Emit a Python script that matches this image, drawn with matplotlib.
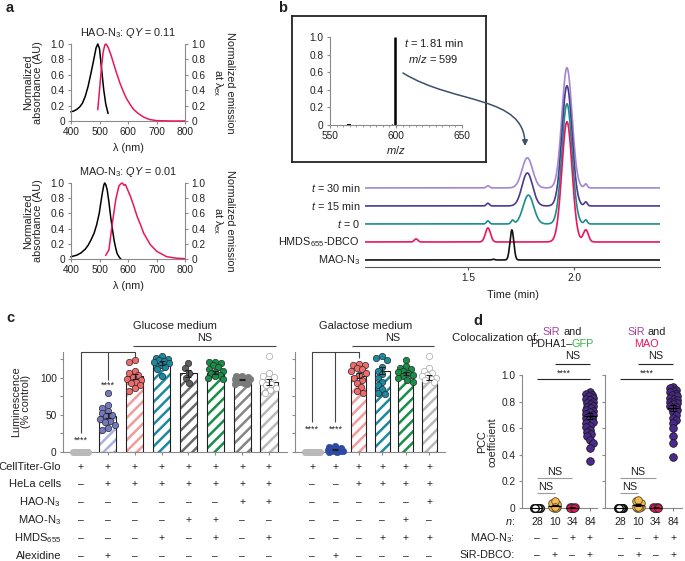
import matplotlib
matplotlib.use("Agg")
import matplotlib.pyplot as plt
import matplotlib.transforms as mtransforms
from matplotlib.patches import FancyArrowPatch
from matplotlib.path import Path
import numpy as np

W, H = 685, 561

TEXT = "#231f20"
AXIS = "#8a8a8a"
PINK = "#e8175d"

# ---------------- a: spectra ----------------
HAO_ABS_NM = [400, 410, 420, 430, 440, 450, 460, 470, 480, 488, 494, 500, 508, 515, 522, 530]
HAO_ABS = [0.12, 0.13, 0.15, 0.18, 0.23, 0.32, 0.45, 0.62, 0.80, 0.95, 1.0, 0.94, 0.65, 0.40, 0.22, 0.10]
HAO_EM_NM = [494, 500, 507, 513, 519, 523, 530, 540, 550, 560, 572, 585, 595, 610, 620, 635, 655, 675, 700, 750, 800]
HAO_EM = [0.15, 0.40, 0.70, 0.90, 0.99, 1.0, 0.96, 0.86, 0.74, 0.62, 0.49, 0.37, 0.29, 0.20, 0.15, 0.10,
          0.05, 0.02, 0.005, 0.0, 0.0]

MAO_ABS_NM = [400, 420, 435, 450, 460, 470, 481, 490, 499, 505, 510, 515, 518, 522, 527, 533, 539, 545,
              551, 557, 562, 570, 575]
MAO_ABS = [0.03, 0.05, 0.08, 0.13, 0.18, 0.25, 0.34, 0.45, 0.60, 0.75, 0.87, 0.97, 1.0, 0.98, 0.91, 0.75,
           0.56, 0.40, 0.25, 0.14, 0.07, 0.02, 0.0]
MAO_EM_NM = [522, 533, 545, 557, 568, 575, 580, 586, 591, 600, 609, 620, 632, 645, 655, 678, 701, 736, 771, 800]
MAO_EM = [0.05, 0.12, 0.47, 0.78, 0.96, 0.99, 1.0, 0.97, 0.98, 0.90, 0.82, 0.70, 0.56, 0.44, 0.34, 0.19,
          0.10, 0.03, 0.01, 0.005]

SPEC_TICKS = [0, 0.2, 0.4, 0.6, 0.8, 1.0]
SPEC_TICK_LABELS = ["0", "0.2", "0.4", "0.6", "0.8", "1.0"]

# ---------------- b: LC-MS ----------------
MS_MZ = [564, 565, 590, 597, 599]
MS_INT = [0.015, 0.008, 0.004, 0.006, 1.0]

TRACE_LABELS = [r"MAO-N$_3$", r"HMDS$_{655}$-DBCO", r"$t$ = 0", r"$t$ = 15 min", r"$t$ = 30 min"]
TRACE_COLORS = ["#111111", PINK, "#1b8c8c", "#4a3a8f", "#a386cf"]
# (retention time, height in trace spacings, width)
TRACE_PEAKS = [
    [(1.62, 0.04, 0.006), (1.707, 1.67, 0.009)],
    [(1.255, 0.17, 0.008), (1.594, 0.78, 0.012), (1.967, 6.67, 0.024), (2.056, 0.67, 0.012)],
    [(1.594, 0.17, 0.007), (1.71, 0.2, 0.007), (1.785, 1.6, 0.025), (1.967, 6.67, 0.024), (2.056, 0.22, 0.007)],
    [(1.594, 0.15, 0.007), (1.78, 1.83, 0.025), (1.967, 6.67, 0.024), (2.056, 0.22, 0.007)],
    [(1.594, 0.12, 0.007), (1.78, 1.67, 0.025), (1.967, 6.67, 0.024), (2.056, 0.22, 0.007)],
]

# ---------------- c: CellTiter-Glo ----------------
GLU_MEANS = [0, 49, 102, 120, 106, 107, 98, 94]
GLU_POINTS = [
    [0, 0, 0, 0, 0, 0, 0, 0, 0, 0, 0, 0],
    [79, 63, 60, 55, 52, 50, 48, 45, 42, 40, 37, 33, 30],
    [124, 122, 110, 106, 104, 101, 99, 97, 95, 93, 90, 86, 83],
    [129, 127, 126, 124, 123, 121, 120, 118, 115, 112, 102],
    [120, 113, 107, 100, 93],
    [122, 121, 120, 117, 115, 112, 110, 108, 106, 104, 102, 100, 98],
    [103, 102, 101, 101, 100, 100, 99, 99, 98, 98, 97, 97, 96, 96, 95, 95, 94, 93, 92, 92],
    [129, 106, 103, 101, 98, 95, 92, 90, 87, 84, 80],
]
GLU_HATCH = ["#b4b4b4", "#a9b1e0", "#f49a9a", "#1b8aa0", "#6b6b6b", "#178f48", "#858585", "#b8b8b8"]
GLU_DOT = ["#b9b9b9", "#7479bf", "#ef6b6b", "#1b8aa0", "#5e5e5e", "#178f48", "#7a7a7a", "white"]
GLU_EDGE = ["#b9b9b9", "#2b2b2b", "#2b2b2b", "#2b2b2b", "#2b2b2b", "#2b2b2b", "#7a7a7a", "#a8a8a8"]

GAL_MEANS = [0, 3, 103, 110, 106, 101]
GAL_POINTS = [
    [0, 0, 0, 0, 0, 0, 0, 0, 0, 0, 0, 0],
    [0, 0, 1, 1, 2, 2, 3, 4, 5, 6, 7, 8],
    [119, 118, 117, 114, 112, 110, 107, 104, 100, 97, 93, 88, 83, 80],
    [129, 127, 124, 115, 110, 105, 100, 95, 90, 85, 80, 78],
    [124, 116, 114, 112, 110, 108, 106, 104, 102, 100, 97, 94],
    [129, 113, 109, 106, 104, 102, 100, 99, 97, 95],
]
GAL_HATCH = ["#b4b4b4", "#2c4aa3", "#f49a9a", "#1b8aa0", "#178f48", "#b8b8b8"]
GAL_DOT = ["#b9b9b9", "#2c4aa3", "#ef6b6b", "#1b8aa0", "#178f48", "white"]
GAL_EDGE = ["#b9b9b9", "#2c4aa3", "#2b2b2b", "#2b2b2b", "#2b2b2b", "#a8a8a8"]

C_ROW_LABELS = ["CellTiter-Glo", "HeLa cells", r"HAO-N$_3$", r"MAO-N$_3$", r"HMDS$_{655}$", "Alexidine"]
GLU_TABLE = [
    "++++++++",
    "-+++++++",
    "------++",
    "----++--",
    "---+-+-+",
    "-+------",
]
GAL_TABLE = [
    "++++++",
    "--++++",
    "-----+",
    "----+-",
    "---+++",
    "-+----",
]

# ---------------- d: colocalization ----------------
PCC_N = ["28", "10", "34", "84"]
D_ROW_LABELS = [r"$n$:", r"MAO-N$_3$:", "SiR-DBCO:"]
D_TABLE = ["--++", "-+-+"]
PCC_PDHA = [
    [0, 0, 0, 0, 0, 0, 0, 0],
    [0.0, 0.005, 0.01, 0.015, 0.02, 0.03, 0.04, 0.05, 0.0, 0.01],
    [0.0, 0.0, 0.005, 0.0, 0.01, 0.0, 0.005, 0.0],
    [0.875, 0.86, 0.85, 0.84, 0.83, 0.82, 0.81, 0.80, 0.79, 0.78, 0.77, 0.76, 0.75, 0.74, 0.73, 0.72,
     0.71, 0.70, 0.69, 0.68, 0.67, 0.66, 0.65, 0.64, 0.62, 0.61, 0.59, 0.575, 0.56, 0.54, 0.51, 0.49,
     0.45, 0.35],
]
PCC_MAO = [
    [0, 0, 0, 0, 0, 0, 0, 0],
    [0.0, 0.005, 0.01, 0.02, 0.03, 0.04, 0.05, 0.06, 0.0, 0.01],
    [0.0, 0.0, 0.005, 0.0, 0.01, 0.0, 0.005, 0.0],
    [0.91, 0.90, 0.89, 0.88, 0.87, 0.86, 0.85, 0.84, 0.83, 0.82, 0.81, 0.80, 0.80, 0.79, 0.78, 0.77,
     0.76, 0.75, 0.74, 0.72, 0.70, 0.68, 0.66, 0.64, 0.60, 0.54, 0.49, 0.38],
]
PCC_FILL = ["white", "#f5bd4f", PINK, "#4b2a8f"]
PCC_EDGE = ["#111111", "#5a4a2a", "#2b2b2b", "#1a1a1a"]

plt.rcParams.update({
    "font.family": ["Liberation Sans", "DejaVu Sans"],
    "font.size": 7,
    "text.color": TEXT,
    "mathtext.fontset": "custom",
    "mathtext.rm": "Liberation Sans",
    "mathtext.it": "Liberation Sans:italic",
    "mathtext.bf": "Liberation Sans:bold",
    "hatch.linewidth": 1.8,
})


def add_px_axes(fig, left, top, right, bottom):
    return fig.add_axes((left / W, 1 - bottom / H, (right - left) / W, (bottom - top) / H))


def fig_text(fig, x, y, s, **kw):
    kw.setdefault("ha", "center")
    kw.setdefault("va", "center")
    return fig.text(x / W, 1 - y / H, s, **kw)


def style_axes(ax, spines=("left", "bottom"), color=AXIS):
    for name, spine in ax.spines.items():
        if name in spines:
            spine.set_color(color)
            spine.set_linewidth(0.8)
        else:
            spine.set_visible(False)
    ax.tick_params(direction="out", length=2.5, width=0.8, color=color, labelsize=7.3,
                   labelcolor=TEXT, pad=2)
    ax.set_facecolor("none")


def swarm_offsets(values, y_scale, diam, max_half):
    ys = np.asarray(values, float) * y_scale
    cand = np.linspace(-max_half, max_half, 21)
    cand = cand[np.argsort(np.abs(cand), kind="stable")]
    offsets = np.zeros(len(ys))
    px, py = [], []
    for i in np.argsort(-ys, kind="stable"):
        best, best_d = 0.0, -1.0
        for c in cand:
            d = np.min(np.hypot(np.array(px) - c, np.array(py) - ys[i])) if px else np.inf
            if d >= diam:
                best = c
                break
            if d > best_d:
                best, best_d = c, d
        offsets[i] = best
        px.append(best)
        py.append(ys[i])
    return offsets


def plot_spectrum(fig, rect, abs_nm, abs_val, em_nm, em_val, title):
    ax = add_px_axes(fig, *rect)
    ax.plot(abs_nm, abs_val, color="black", lw=1.1, clip_on=False)
    ax.set_xlim(400, 800)
    ax.set_ylim(0, 1.0)
    ax.set_xticks(range(400, 801, 100))
    ax.set_yticks(SPEC_TICKS)
    ax.set_yticklabels(SPEC_TICK_LABELS)
    style_axes(ax)
    ax2 = ax.twinx()
    ax2.plot(em_nm, em_val, color=PINK, lw=1.1, clip_on=False)
    ax2.set_ylim(0, 1.0)
    ax2.set_yticks(SPEC_TICKS)
    ax2.set_yticklabels(SPEC_TICK_LABELS)
    style_axes(ax2, spines=("right",))
    ax.set_title(title, fontsize=7.8, pad=6, color=TEXT)
    left, top, right, bottom = rect
    mid = (top + bottom) / 2
    fig_text(fig, 33, mid, "Normalized\nabsorbance (AU)", rotation=90, fontsize=7.8, linespacing=1.0)
    fig_text(fig, 223, mid, "Normalized emission\nat λ$_{\\mathregular{ex}}$", rotation=270,
             fontsize=7.8, linespacing=1.0)
    fig_text(fig, (left + right) / 2, bottom + 27, "λ (nm)", fontsize=7.8)


def plot_panel_a(fig):
    plot_spectrum(fig, (71, 44, 185, 121), HAO_ABS_NM, HAO_ABS, HAO_EM_NM, HAO_EM,
                  r"HAO-N$_3$: $QY$ = 0.11")
    plot_spectrum(fig, (71, 183, 185, 259), MAO_ABS_NM, MAO_ABS, MAO_EM_NM, MAO_EM,
                  r"MAO-N$_3$: $QY$ = 0.01")


def plot_panel_b(fig):
    box = add_px_axes(fig, 292, 16, 486, 162)
    box.set_xticks([])
    box.set_yticks([])
    for spine in box.spines.values():
        spine.set_linewidth(1.3)
        spine.set_color("#222222")

    ins = add_px_axes(fig, 330, 37, 462, 125)
    ins.vlines(MS_MZ, 0, MS_INT, color="black", lw=[1.5, 1.5, 0.8, 0.8, 1.8])
    ins.set_xlim(550, 650)
    ins.set_ylim(0, 1.0)
    ins.set_xticks([550, 600, 650])
    ins.set_xticks(np.arange(550, 651, 5), minor=True)
    ins.set_yticks(SPEC_TICKS)
    ins.set_yticklabels(SPEC_TICK_LABELS)
    style_axes(ins)
    ins.tick_params(which="minor", length=1.5, width=0.6, color=AXIS)
    fig_text(fig, 396, 150, r"$m/z$", fontsize=8)
    fig_text(fig, 404, 43, r"$t$ = 1.81 min", fontsize=8, ha="left")
    fig_text(fig, 408, 59, r"$m/z$ = 599", fontsize=8, ha="left")

    ax = add_px_axes(fig, 365, 60, 660, 267)
    x = np.linspace(1.014, 2.406, 1400)
    for k, peaks in enumerate(TRACE_PEAKS):
        y = np.full_like(x, float(k))
        for c, h, s in peaks:
            y += h * np.exp(-0.5 * ((x - c) / s) ** 2)
        ax.plot(x, y, color=TRACE_COLORS[k], lw=1.2, zorder=10 - k)
    ax.set_xlim(1.014, 2.406)
    ax.set_ylim(-0.39, 11.1)
    ax.set_xticks([1.5, 2.0])
    ax.set_xticklabels(["1.5", "2.0"])
    ax.set_yticks([])
    style_axes(ax, spines=("bottom",), color="#555555")
    ax.set_xlabel("Time (min)", fontsize=7.8, labelpad=5, color=TEXT)
    for k, label in enumerate(TRACE_LABELS):
        fig_text(fig, 360, 260 - 18 * k, label, ha="right", fontsize=7.8)

    verts = [(403, 73), (455, 105), (525, 95), (525, 146)]
    path = Path([(vx / W, 1 - vy / H) for vx, vy in verts],
                [Path.MOVETO, Path.CURVE4, Path.CURVE4, Path.CURVE4])
    arrow = FancyArrowPatch(path=path, arrowstyle="-|>", mutation_scale=8, color="#3b4f6b",
                            lw=1.1, transform=fig.transFigure)
    fig.add_artist(arrow)


def draw_bars(ax, means, points, hatch, dots, edges, px_x):
    for i, m in enumerate(means):
        if m > 0:
            ax.bar(i, m, width=0.64, color="white", edgecolor=hatch[i], hatch="///", linewidth=0, zorder=2)
            ax.bar(i, m, width=0.64, fill=False, edgecolor=TEXT, linewidth=0.8, zorder=3)
        pts = np.asarray(points[i], float)
        off = swarm_offsets(pts, 0.74, 5.8, 7.5) / px_x
        ax.scatter(i + off, pts, s=21, c=dots[i], edgecolors=edges[i], linewidths=0.5, zorder=4,
                   clip_on=False)
        if m > 0:
            sem = pts.std(ddof=1) / np.sqrt(len(pts))
            ax.errorbar(i, m, yerr=sem, color=TEXT, capsize=2.5, lw=0.8, capthick=0.8, zorder=5)
    ax.set_ylim(0, 135)
    ax.set_yticks(range(0, 126, 25))
    ax.set_xticks(range(len(means)))
    ax.set_xticklabels([])


def bracket_line(ax, xs, ys, color="#444444"):
    ax.plot(xs, ys, color=color, lw=0.8, clip_on=False, solid_capstyle="butt")


def plot_panel_c(fig):
    glu = add_px_axes(fig, 63, 352, 287, 452)
    glu.set_xlim(-0.67, 7.67)
    draw_bars(glu, GLU_MEANS, GLU_POINTS, GLU_HATCH, GLU_DOT, GLU_EDGE, 26.86)
    glu.set_yticklabels(["0", "", "50", "", "100", ""])
    style_axes(glu)
    fig_text(fig, 21, 402, "Luminescence\n(% control)", rotation=90, fontsize=7.8, linespacing=1.0)

    gal = add_px_axes(fig, 295, 352, 445, 452)
    gal.set_xlim(-0.73, 5.68)
    draw_bars(gal, GAL_MEANS, GAL_POINTS, GAL_HATCH, GAL_DOT, GAL_EDGE, 23.4)
    gal.set_yticklabels([])
    style_axes(gal)

    # brackets
    bracket_line(glu, [0, 0, 2, 2], [25, 135, 135, 127])
    bracket_line(glu, [1, 1], [97, 135])
    glu.text(0, 16, "****", ha="center", va="center", fontsize=6.5)
    glu.text(1, 90, "****", ha="center", va="center", fontsize=6.5)
    bracket_line(glu, [1.95, 7.25], [143, 143])
    glu.text(4.6, 154, "NS", ha="center", va="center", fontsize=7.8)
    glu.text(3.5, 170, "Glucose medium", ha="center", va="center", fontsize=8)

    bracket_line(gal, [0, 0, 2, 2], [41, 135, 135, 127])
    bracket_line(gal, [1, 1], [41, 135])
    gal.text(0, 31, "****", ha="center", va="center", fontsize=6.5)
    gal.text(1, 31, "****", ha="center", va="center", fontsize=6.5)
    bracket_line(gal, [1.72, 5.2], [143, 143])
    gal.text(3.46, 154, "NS", ha="center", va="center", fontsize=7.8)
    gal.text(2.3, 170, "Galactose medium", ha="center", va="center", fontsize=8)

    rows_y = [467, 484, 502, 520, 538, 556]
    for label, y in zip(C_ROW_LABELS, rows_y):
        fig_text(fig, 61, y, label, ha="right", fontsize=8)
    for ax, table in ((glu, GLU_TABLE), (gal, GAL_TABLE)):
        trans = mtransforms.blended_transform_factory(ax.transData, fig.transFigure)
        for row, y in zip(table, rows_y):
            for j, sign in enumerate(row):
                fig.text(j, 1 - y / H, "+" if sign == "+" else "–", transform=trans,
                         ha="center", va="center", fontsize=7.5)


def draw_pcc(ax, groups):
    for i, pts in enumerate(groups):
        pts = np.asarray(pts, float)
        off = swarm_offsets(pts, 133, 4.0, 3.5 if i == 3 else 2.5) / 17.6
        ax.scatter(i + off, pts, s=30, c=PCC_FILL[i], edgecolors=PCC_EDGE[i],
                   linewidths=1.0 if i == 0 else 0.6, zorder=4, clip_on=False)
        mean = pts.mean()
        sem = pts.std(ddof=1) / np.sqrt(len(pts))
        ax.hlines(mean, i - 0.35, i + 0.35, color="black", lw=0.8, zorder=6, clip_on=False)
        ax.errorbar(i, mean, yerr=sem, color="black", capsize=2, lw=0.7, capthick=0.7, zorder=6,
                    clip_on=False)
    ax.set_ylim(0, 1.0)
    ax.set_yticks([0, 0.2, 0.4, 0.6, 0.8, 1.0])
    ax.set_xticks(range(4))
    ax.set_xticklabels([])

    bracket_line(ax, [1, 3], [1.083, 1.083], color="#222222")
    ax.text(2, 1.14, "NS", ha="center", va="center", fontsize=7.8)
    bracket_line(ax, [0, 3], [0.97, 0.97], color="#222222")
    ax.text(1.5, 1.015, "****", ha="center", va="center", fontsize=6.5)
    bracket_line(ax, [0, 2], [0.225, 0.225], color="#9a9a9a")
    ax.text(1.0, 0.27, "NS", ha="center", va="center", fontsize=7.8)
    bracket_line(ax, [0, 1], [0.113, 0.113], color="#9a9a9a")
    ax.text(0.5, 0.16, "NS", ha="center", va="center", fontsize=7.8)


def plot_panel_d(fig):
    d1 = add_px_axes(fig, 522, 375, 597, 508)
    d1.set_xlim(-0.85, 3.4)
    draw_pcc(d1, PCC_PDHA)
    d1.set_yticklabels(["0", "0.2", "0.4", "0.6", "0.8", "1.0"])
    style_axes(d1)

    d2 = add_px_axes(fig, 605, 375, 682, 508)
    d2.set_xlim(-0.88, 3.5)
    draw_pcc(d2, PCC_MAO)
    d2.set_yticklabels([])
    style_axes(d2)

    fig_text(fig, 487, 442, "PCC\ncoefficient", rotation=90, fontsize=7.8, linespacing=1.0)
    fig_text(fig, 539, 338, "Colocalization of:", ha="right", fontsize=8.2)
    fig_text(fig, 560, 332, "SiR", ha="right", fontsize=7.8, color="#a8419f")
    fig_text(fig, 563, 332, "and", ha="left", fontsize=7.8)
    fig_text(fig, 572, 344, "PDHA1–", ha="right", fontsize=7.8)
    fig_text(fig, 572, 344, "GFP", ha="left", fontsize=7.8, color="#3cb54a")
    fig_text(fig, 645, 332, "SiR", ha="right", fontsize=7.8, color="#a8419f")
    fig_text(fig, 648, 332, "and", ha="left", fontsize=7.8)
    fig_text(fig, 646, 344, "MAO", fontsize=7.8, color=PINK)

    rows_y = [522, 538, 555]
    for label, y in zip(D_ROW_LABELS, rows_y):
        fig_text(fig, 515, y, label, ha="right", fontsize=7.8)
    for ax in (d1, d2):
        trans = mtransforms.blended_transform_factory(ax.transData, fig.transFigure)
        for j, n in enumerate(PCC_N):
            fig.text(j, 1 - rows_y[0] / H, n, transform=trans, ha="center", va="center", fontsize=7.5)
        for row, y in zip(D_TABLE, rows_y[1:]):
            for j, sign in enumerate(row):
                fig.text(j, 1 - y / H, "+" if sign == "+" else "–", transform=trans,
                         ha="center", va="center", fontsize=7.5)


def main():
    fig = plt.figure(figsize=(W / 100, H / 100), dpi=100)
    plot_panel_a(fig)
    plot_panel_b(fig)
    plot_panel_c(fig)
    plot_panel_d(fig)
    for x, y, s in ((6, 8, "a"), (278, 8, "b"), (6, 318, "c"), (473, 321, "d")):
        fig_text(fig, x, y, s, fontsize=10.5, fontweight="bold", ha="left")
    fig.savefig("out.png", dpi=100)


if __name__ == "__main__":
    main()
